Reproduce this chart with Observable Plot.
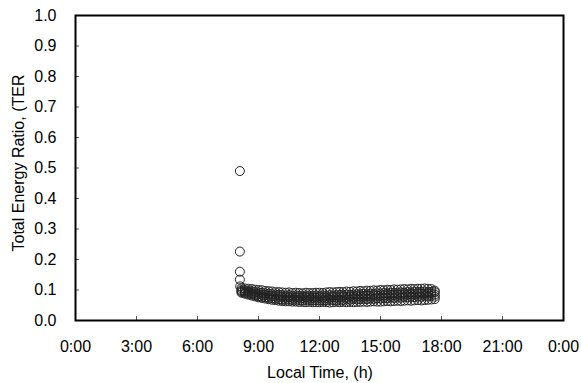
<!DOCTYPE html>
<html><head>
<meta charset="utf-8">
<script src="https://cdn.jsdelivr.net/npm/d3@7"></script>
<script src="https://cdn.jsdelivr.net/npm/@observablehq/plot@0.6"></script>
<style>body{margin:0;background:#fff;}</style>
</head><body><div id="chart"></div>
<script>
// sampling times (local time) for each day's series
const times = [
 "8:10","8:20","8:30","8:40","8:50",
 "9:00","9:10","9:20","9:30","9:40","9:50",
 "10:00","10:10","10:20","10:30","10:40","10:50",
 "11:00","11:10","11:20","11:30","11:40","11:50",
 "12:00","12:10","12:20","12:30","12:40","12:50",
 "13:00","13:10","13:20","13:30","13:40","13:50",
 "14:00","14:10","14:20","14:30","14:40","14:50",
 "15:00","15:10","15:20","15:30","15:40","15:50",
 "16:00","16:10","16:20","16:30","16:40","16:50",
 "17:00","17:10","17:20","17:30","17:40"];
const day1 = [
 .106,.105,.104,.103,.101,
 .100,.099,.097,.096,.095,.093,
 .093,.092,.091,.092,.090,.091,
 .090,.089,.091,.090,.090,.091,
 .091,.090,.092,.093,.092,.093,
 .094,.093,.095,.094,.096,.095,
 .097,.096,.098,.097,.099,.098,
 .100,.099,.101,.100,.102,.101,
 .102,.103,.102,.104,.103,.104,
 .104,.105,.104,.103,.098];
const day2 = [
 .100,.099,.097,.096,.094,
 .092,.091,.089,.088,.086,.085,
 .084,.083,.082,.083,.081,.082,
 .081,.080,.082,.081,.080,.082,
 .081,.082,.081,.083,.082,.083,
 .084,.083,.085,.084,.085,.086,
 .086,.087,.086,.088,.087,.089,
 .088,.090,.089,.091,.090,.091,
 .092,.091,.093,.092,.094,.093,
 .094,.095,.093,.094,.093];
const day3 = [
 .097,.095,.093,.090,.088,
 .086,.084,.083,.081,.080,.079,
 .078,.077,.076,.077,.075,.076,
 .075,.074,.076,.075,.074,.075,
 .076,.075,.074,.076,.077,.076,
 .077,.078,.077,.079,.078,.080,
 .079,.080,.081,.080,.082,.081,
 .082,.083,.082,.084,.083,.085,
 .084,.086,.085,.087,.086,.087,
 .088,.087,.089,.088,.085];
const day4 = [
 .094,.091,.088,.086,.083,
 .080,.078,.076,.075,.073,.072,
 .070,.069,.068,.069,.067,.068,
 .067,.066,.068,.067,.066,.067,
 .066,.067,.066,.068,.067,.066,
 .068,.067,.069,.068,.070,.069,
 .070,.071,.070,.072,.071,.073,
 .072,.074,.073,.075,.074,.076,
 .075,.077,.076,.078,.077,.079,
 .078,.080,.079,.081,.078];
const day5 = [
 .091,.088,.085,.082,.079,
 .076,.074,.072,.070,.068,.067,
 .065,.064,.063,.063,.062,.062,
 .061,.061,.060,.061,.060,.060,
 .060,.061,.060,.059,.060,.061,
 .060,.061,.060,.061,.060,.061,
 .061,.062,.061,.062,.063,.062,
 .062,.063,.064,.063,.064,.065,
 .064,.065,.066,.065,.066,.067,
 .066,.067,.068,.069,.070];
// early-morning outliers
const extraTimes = ["8:05","8:05","8:05","8:05","8:06"];
const extraValues = [0.49, 0.226, 0.16, 0.134, 0.112];

const xTicks = [0,3,6,9,12,15,18,21,24];
const xTickLabels = ["0:00","3:00","6:00","9:00","12:00","15:00","18:00","21:00","0:00"];
const yTicks = [0,0.1,0.2,0.3,0.4,0.5,0.6,0.7,0.8,0.9,1.0];

const toH = s => { const [h,m] = s.split(":").map(Number); return h + m/60; };
const points = [];
extraTimes.forEach((t,i) => points.push({t: toH(t), v: extraValues[i]}));
[day1, day2, day3, day4, day5].forEach(d => d.forEach((v,i) => points.push({t: toH(times[i]), v})));

const font = "'Liberation Sans', Arial, sans-serif";
const plot = Plot.plot({
  width: 581, height: 383,
  marginLeft: 75, marginRight: 18, marginTop: 15, marginBottom: 63,
  style: {fontFamily: font, fontSize: "16px", color: "#000", background: "#fff"},
  x: {domain: [0, 24]},
  y: {domain: [0, 1]},
  marks: [
    Plot.axisX({ticks: xTicks.slice(1, -1), tickSize: -4, tickFormat: () => "", stroke: "#555", label: null}),
    Plot.axisY({ticks: yTicks.slice(1, -1), tickSize: -4, tickFormat: () => "", stroke: "#555", label: null}),
    Plot.axisX({ticks: xTicks, tickSize: 0, tickPadding: 20, tickFormat: (d, i) => xTickLabels[i], label: null}),
    Plot.axisY({ticks: yTicks, tickSize: 0, tickPadding: 19, tickFormat: d3.format(".1f"), label: null}),
    Plot.dot(points, {x: "t", y: "v", r: 4.5, stroke: "#222", strokeWidth: 1, fill: "none"}),
    Plot.frame({stroke: "#000", strokeWidth: 2})
  ]
});
const svg = d3.select(plot);
svg.append("text")
  .attr("transform", "translate(23.5,163) rotate(-90)")
  .attr("text-anchor", "middle")
  .attr("font-family", font)
  .attr("font-size", 16)
  .attr("fill", "#000")
  .text("Total Energy Ratio, (TER");
svg.append("text")
  .attr("x", 320).attr("y", 378)
  .attr("text-anchor", "middle")
  .attr("font-family", font)
  .attr("font-size", 16)
  .attr("fill", "#000")
  .text("Local Time, (h)");
document.getElementById("chart").appendChild(plot);
</script>
</body></html>
